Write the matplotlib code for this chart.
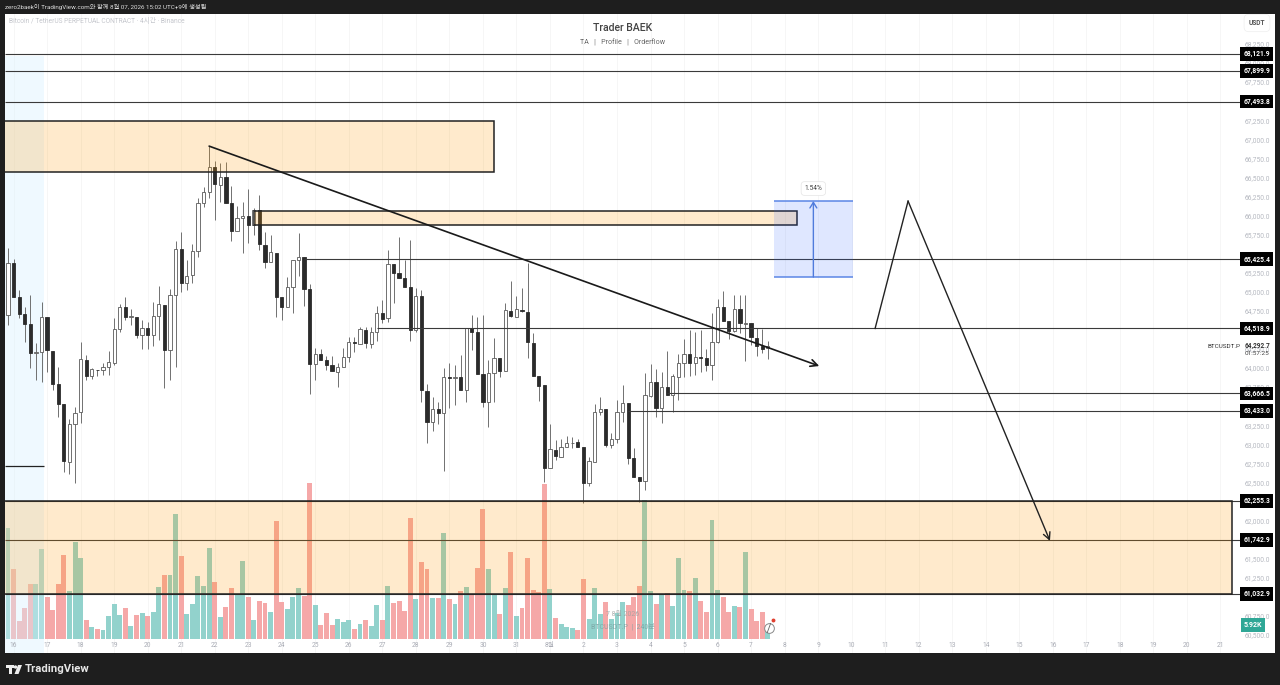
import numpy as np
import matplotlib
matplotlib.use('Agg')
import matplotlib.pyplot as plt
from matplotlib.patches import Rectangle, Circle, Polygon

plt.rcParams['font.family'] = ['Roboto', 'Noto Sans CJK KR', 'DejaVu Sans']

# 4h candles
opens = [64695,65372,64926,64703,64572,64192,64205,64664,64227,63786,63523,62772,63266,63418,64105,63895,63978,63969,64017,64070,
         64515,64795,64673,64673,64432,64528,64428,64677,64826,64236,64957,65555,65110,65219,65534,66159,66303,66630,66399,66508,
         66159,65800,65971,65997,65874,66071,65612,65385,65512,64926,64804,65057,65416,65451,65031,64052,64179,64105,64039,63952,
         64017,64140,64341,64314,64498,64319,64467,64716,64651,65363,65250,65180,65057,64498,64944,63703,63287,63458,63414,63886,
         63869,63886,63711,64520,64467,63921,63550,63939,64126,63960,64751,64673,64764,64730,64332,63895,63773,62685,62925,62838,
         62960,63013,63035,62960,62488,62772,63423,63458,62991,63065,63419,63537,62825,62576,62519,63638,63821,63480,63756,63651,
         63887,64070,64184,64062,64145,64127,64035,64337,64796,64617,64485,64774,64577,64586,64398,64289,64265]
highs = [65569,65424,65022,64804,64957,64323,64861,64664,64227,64017,63523,63331,63484,64345,64170,63995,63978,64070,64223,64651,
         64840,64935,64773,64673,64629,64607,64861,65075,64826,65035,65669,65778,65416,65625,66224,66377,66914,66718,66683,66705,
         66386,66124,66180,66346,66093,66268,65778,65743,65512,64926,65188,65416,65765,65451,65101,64258,64249,64157,64157,64061,
         64258,64402,64410,64542,64533,64533,64813,64891,65547,65363,65713,65416,65678,65044,65022,63790,63624,63558,63995,64070,
         64039,64170,64520,64695,64673,64695,64105,64389,64126,64856,65145,64944,65044,65372,64454,63895,63773,63266,63056,63065,
         63109,63100,63065,62960,62838,63528,63616,63458,63144,63581,63777,63537,62947,62576,63939,64053,63983,63952,64228,63922,
         64184,64376,64498,64477,64498,64249,64717,64901,65014,64617,64957,64957,64957,64586,64520,64507,64359]
lows = [64564,64935,64651,64345,63995,63842,63821,63952,63711,63362,62641,62610,62496,63274,63842,63851,63895,63904,63908,64039,
        64467,64629,64564,64389,64249,64249,64288,64367,63733,63842,64017,65000,65022,65110,65451,66106,66224,65940,66172,66167,
        65669,65800,65503,65643,65743,65547,65306,65385,64673,64629,64804,64725,65206,64813,63654,63842,64105,63974,63960,63755,
        64017,64083,64214,64314,64258,64258,64358,64585,64607,64856,65175,65057,64358,64476,63558,63012,63178,63266,62654,63471,
        63515,63711,63558,64236,63921,63484,63222,63558,63877,63960,64673,64673,64738,64126,63899,63571,62500,62685,62794,62838,
        62960,62947,62960,62226,62453,62772,63384,62969,62947,63013,63297,62742,62576,62248,62401,63625,63354,63284,63651,63419,
        63581,63887,63900,63909,63952,63965,63843,64324,64617,64376,64477,64455,64096,64302,64158,64193,64123]
closes = [65372,64935,64708,64577,64192,64214,64664,64236,63790,63523,62781,63261,63414,64113,63895,63982,63969,64017,64074,64515,
          64795,64673,64681,64432,64528,64428,64677,64834,64236,64957,65555,65110,65210,65534,66159,66303,66639,66408,66508,66167,
          65800,65971,65997,65874,66071,65621,65394,65516,64935,64804,65057,65416,65451,65035,64052,64183,64105,64039,63960,64017,
          64140,64345,64327,64507,64323,64467,64716,64646,65363,65250,65175,65057,64498,64944,63711,63296,63462,63414,63886,63873,
          63886,63711,64520,64467,63921,63550,63939,64126,63965,64760,64681,64769,64743,64336,63899,63768,62685,62934,62851,62960,
          63013,63021,62965,62497,62781,63419,63458,62991,63065,63419,63537,62825,62576,62519,63646,63821,63480,63756,63651,63895,
          64070,64184,64062,64140,64136,64035,64337,64796,64617,64485,64774,64586,64586,64402,64289,64254,64292.7]
volumes = [48.4,30.3,7.9,13.6,23.8,23.8,39.0,18.5,12.7,23.8,36.4,20.9,42.3,35.1,8.4,5.5,4.5,4.2,10.1,15.5,
           10.5,13.6,5.9,10.7,11.4,10.1,11.7,22.8,28.0,27.9,54.3,36.1,11.0,15.3,27.3,23.0,39.7,24.8,9.7,13.9,
           22.2,19.1,33.9,18.5,8.5,16.8,15.7,11.8,51.4,16.2,13.3,18.3,22.2,18.8,67.6,14.7,6.1,11.4,6.2,9.0,
           7.5,8.5,4.6,6.5,8.2,5.6,14.7,8.5,23.1,15.9,16.8,12.3,52.7,17.3,33.4,30.5,17.9,17.9,45.9,17.3,
           15.3,21.1,22.7,19.2,30.8,56.3,30.3,19.2,10.8,22.2,37.7,10.0,13.6,35.2,21.4,20.5,67.3,21.8,9.4,6.6,
           5.2,4.9,4.2,26.1,8.8,22.2,11.0,16.0,8.8,11.6,16.2,15.0,18.2,23.1,60.4,20.9,15.3,19.2,20.1,14.3,
           35.1,21.2,21.1,26.4,16.5,11.7,51.8,21.4,18.2,11.8,14.6,14.0,37.8,13.3,8.1,12.0,5.92]

# labels that sit fully under a level tag are not readable in the picture, so they are left out
hidden_ticks = [67500, 65500, 64500, 63500, 62250, 61750, 61000]
price_ticks = [p for p in range(60500, 68251, 250) if p not in hidden_ticks]
day_labels = [str(d) for d in range(16, 32)] + ['8월'] + [str(d) for d in range(2, 22)]

# horizontal levels and the bar each one starts from
levels = [68121.9, 67899.9, 67493.8, 65425.4, 64518.9, 63666.5, 63433.0, 62255.3, 61742.9, 61032.9]
level_starts = [-1, -1, -1, 53, 66, 118, 111, -1, -1, -1]
short_level = 62715

# drawings: x in bars, y in price
zones = [(-1, 87, 66570, 67238), (44, 141.2, 65875, 66058), (-1, 219, 61032.9, 62255.3)]
measure_x = [137.1, 151.2]
measure_y = [65193, 66189]
trend_x = [36, 145.2]
trend_y = [66910, 64026]
path_x = [155.2, 161.1, 186.5]
path_y = [64518.9, 66189, 61732]

dark = '#1e1e1e'
W, H = 1280, 685
L, R, T, B = 5, 1238, 14, 653      # chart area in pixels
px_per_bar = 5.587
price_per_px = 13.116

fig = plt.figure(figsize=(W / 100, H / 100), dpi=100, facecolor=dark)

# pixel canvas behind everything, for the white panel and the logo
bg = fig.add_axes([0, 0, 1, 1], zorder=-1)
bg.set_xlim(0, W)
bg.set_ylim(H, 0)
bg.axis('off')
bg.add_patch(Rectangle((5, 14), 1270, 639, fc='white', ec='none'))
bg.add_patch(Rectangle((6, 665), 7.5, 3, fc='#eeeeee', ec='none'))
bg.add_patch(Rectangle((9, 665), 3, 9, fc='#eeeeee', ec='none'))
bg.add_patch(Circle((15.5, 667), 1.7, fc='#eeeeee', ec='none'))
bg.add_patch(Polygon([[18, 665], [22, 665], [18.5, 674], [14.5, 674]], fc='#eeeeee', ec='none'))

pos = [L / W, 1 - B / H, (R - L) / W, (B - T) / H]
xlim = ((L - 8) / px_per_bar, (R - 8) / px_per_bar)

# volume goes underneath so the zones tint the bars
axv = fig.add_axes(pos, zorder=1, facecolor='white')
axv.set_xlim(xlim)
axv.set_ylim(-5.93, 270.8)
axv.axis('off')
bars = np.arange(len(opens))
is_up = np.array(closes) >= np.array(opens)
axv.bar(bars, volumes, width=0.88, color=np.where(is_up, '#92d2cc', '#f5a8a8'), zorder=2)
for t in range(1, 218, 6):
    axv.axvline(t, color='#f6f6f6', lw=0.7, zorder=1)

ax = fig.add_axes(pos, zorder=2, facecolor='none')
ax.set_xlim(xlim)
ax.set_ylim(64000 - (B - 368) * price_per_px, 64000 + (368 - T) * price_per_px)
for s in ax.spines.values():
    s.set_visible(False)
ax.set_xticks(range(1, 218, 6))
ax.set_xticklabels(day_labels)
ax.set_yticks(price_ticks)
ax.set_yticklabels([f'{p:,.1f}' for p in price_ticks])
ax.tick_params(axis='x', length=0, pad=-8, labelsize=4.8, labelcolor='#a9acb5')
ax.tick_params(axis='y', length=0, pad=5, labelsize=4.8, labelcolor='#b5b8c0',
               left=False, right=False, labelleft=False, labelright=True)

# blue session band on the left
ax.add_patch(Rectangle((-1, ax.get_ylim()[0]), 7.44, 68090 - ax.get_ylim()[0], fc='#d9f1ff', alpha=0.4, ec='none', zorder=1))

# candles
ax.vlines(bars, lows, highs, color='#707070', lw=0.7, zorder=3)
ax.bar(bars[is_up], np.array(closes)[is_up] - np.array(opens)[is_up], bottom=np.array(opens)[is_up],
       width=0.58, fc='white', ec='#5a5a5a', lw=0.6, zorder=4)
ax.bar(bars[~is_up], np.array(opens)[~is_up] - np.array(closes)[~is_up], bottom=np.array(closes)[~is_up],
       width=0.58, fc='#2b2b2b', ec='#2b2b2b', lw=0.6, zorder=4)

# levels
for lev, st in zip(levels, level_starts):
    ax.hlines(lev, st if st >= 0 else xlim[0], xlim[1] + 0.5, color='#3a3a3a', lw=0.8, zorder=5, clip_on=False)
    ax.text(1.0042, lev, f'{lev:,.1f}', transform=ax.get_yaxis_transform(), color='white', fontsize=4.9,
            fontweight='bold', va='center', ha='left', zorder=9,
            bbox=dict(boxstyle='square,pad=0.42', fc='black', ec='none'))
ax.hlines(short_level, xlim[0], 6.44, color='#222222', lw=0.9, zorder=5)

# orange zones
for x0, x1, y0, y1 in zones:
    ax.add_patch(Rectangle((x0, y0), x1 - x0, y1 - y0, fc='#ff9800', alpha=0.2, ec='none', zorder=6))
    ax.add_patch(Rectangle((x0, y0), x1 - x0, y1 - y0, fc='none', ec='#222222', lw=1.1, zorder=6))

# measure box
ax.add_patch(Rectangle((measure_x[0], measure_y[0]), measure_x[1] - measure_x[0], measure_y[1] - measure_y[0],
                       fc='#2962ff', alpha=0.15, ec='none', zorder=6))
ax.hlines(measure_y, measure_x[0], measure_x[1], color='#5b86e5', lw=1.1, zorder=7)
ax.annotate('', xy=(np.mean(measure_x), measure_y[1]), xytext=(np.mean(measure_x), measure_y[0]), zorder=7,
            arrowprops=dict(arrowstyle='->,head_width=0.25,head_length=0.4', color='#4f7bdc', lw=1.0, shrinkA=0, shrinkB=0))
ax.text(np.mean(measure_x), measure_y[1] + 165, '1.54%', fontsize=4.8, color='#444444', ha='center', va='center', zorder=8,
        bbox=dict(boxstyle='round,pad=0.5', fc='white', ec='#e4e4e4', lw=0.5))

# trend line and the drawn path
ax.annotate('', xy=(trend_x[1], trend_y[1]), xytext=(trend_x[0], trend_y[0]), zorder=8,
            arrowprops=dict(arrowstyle='->,head_width=0.25,head_length=0.5', color='#1a1a1a', lw=1.2, shrinkA=0, shrinkB=0))
ax.plot(path_x[:2], path_y[:2], color='#222222', lw=1.0, zorder=8)
ax.annotate('', xy=(path_x[2], path_y[2]), xytext=(path_x[1], path_y[1]), zorder=8,
            arrowprops=dict(arrowstyle='->,head_width=0.25,head_length=0.5', color='#222222', lw=1.0, shrinkA=0, shrinkB=0))

# texts outside the data
def put(x, y, s, **kw):
    kw.setdefault('va', 'center')
    return fig.text(x / W, 1 - y / H, s, **kw)

put(5, 7, 'zero2baek이 TradingView.com와 함께 8월 07, 2026 15:02 UTC+9에 생성됨', color='#dddddd', fontsize=4.5)
put(9, 21, 'Bitcoin / TetherUS PERPETUAL CONTRACT · 4시간 · Binance', color='#c4c6cc', fontsize=4.8)
put(623, 28, 'Trader BAEK', color='#444444', fontsize=7.6, ha='center', fontweight='medium')
put(623, 43, 'TA   |   Profile   |   Orderflow', color='#666666', fontsize=5.1, ha='center')
put(1257, 23, 'USDT', color='#555555', fontsize=4.8, ha='center', fontweight='bold',
    bbox=dict(boxstyle='round,pad=0.7', fc='white', ec='#eeeeee', lw=0.5))
put(1208, 346, 'BTCUSDT.P', color='#333333', fontsize=4.6)
put(1245, 345.5, '64,292.7', color='#333333', fontsize=4.7, fontweight='bold')
put(1245, 353.5, '01:57:25', color='#444444', fontsize=4.6)
put(1244, 625, '5.92K', color='white', fontsize=5.0, fontweight='bold',
    bbox=dict(boxstyle='square,pad=0.42', fc='#2fa796', ec='none'))
put(623, 615, '7 8월 2026', color='#9aa0a0', fontsize=5.0, ha='center', alpha=0.8)
put(623, 627, 'BTCUSDT.P  |  240분', color='#7aa0a0', fontsize=5.0, ha='center', alpha=0.8)
put(25, 669, 'TradingView', color='#e6e6e6', fontsize=8.2, fontweight='bold')

# little replay icon next to the last bar
ax.plot([136.2], [60590], marker='o', ms=7, mfc='white', mec='#888888', mew=0.7, zorder=9, clip_on=False)
ax.plot([136.9], [60690], marker='o', ms=1.8, color='#e04030', zorder=10)
ax.plot([135.9, 136.5], [60530, 60650], color='#666666', lw=0.6, zorder=10)

fig.savefig('out.png', dpi=100, facecolor=dark)
